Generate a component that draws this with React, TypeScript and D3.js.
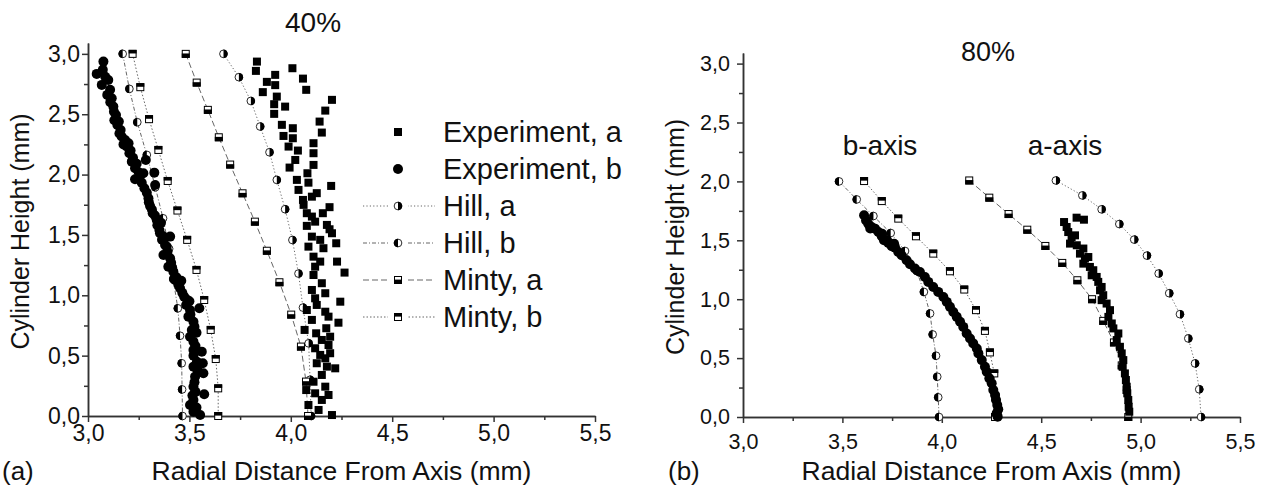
import React, { useEffect, useRef } from 'react';
import * as d3 from 'd3';

// [radial distance (mm), cylinder height (mm)]
// panel (a), 40%
const expA40 = [
  [3.833, 2.936], [3.828, 2.859], [3.882, 2.768], [3.923, 2.826], [3.923, 2.741], [3.862, 2.683],
  [3.931, 2.646], [3.918, 2.583], [3.972, 2.563], [3.918, 2.503], [4.008, 2.881], [4.06, 2.795],
  [4.076, 2.702], [4.203, 2.619], [4.17, 2.53], [4.142, 2.439], [4.153, 2.348], [3.956, 2.412],
  [4.01, 2.384], [3.964, 2.32], [4.01, 2.301], [3.989, 2.232], [4.112, 2.26], [4.035, 2.199],
  [4.112, 2.177], [4.022, 2.121], [3.994, 2.058], [4.112, 2.08], [4.082, 2.011], [4.03, 1.956],
  [4.087, 1.933], [4.199, 1.906], [4.038, 1.873], [4.128, 1.846], [4.104, 1.817], [4.06, 1.79],
  [4.063, 1.749], [4.191, 1.73], [4.079, 1.68], [4.104, 1.652], [4.158, 1.68], [4.12, 1.61],
  [4.178, 1.583], [4.191, 1.547], [4.079, 1.575], [4.104, 1.486], [4.145, 1.459], [4.224, 1.431],
  [4.087, 1.403], [4.161, 1.39], [4.203, 1.514], [4.112, 1.32], [4.145, 1.279], [4.228, 1.279],
  [4.12, 1.237], [4.265, 1.188], [4.112, 1.168], [4.153, 1.1], [4.104, 1.044], [4.17, 1.017],
  [4.12, 0.975], [4.244, 0.947], [4.128, 0.92], [4.079, 0.878], [4.17, 0.864], [4.104, 0.796],
  [4.186, 0.823], [4.235, 0.773], [4.068, 0.713], [4.125, 0.685], [4.175, 0.727], [4.153, 0.63],
  [4.194, 0.657], [4.186, 0.588], [4.12, 0.561], [4.145, 0.506], [4.17, 0.478], [4.194, 0.52],
  [4.128, 0.437], [4.178, 0.409], [4.219, 0.395], [4.153, 0.34], [4.112, 0.284], [4.12, 0.188],
  [4.17, 0.243], [4.186, 0.174], [4.076, 0.215], [4.087, 0.091], [4.137, 0.05], [4.153, 0.133],
  [4.203, 0.008],
];
const expB40 = [
  [3.043, 2.834], [3.076, 2.936], [3.073, 2.868], [3.068, 2.743], [3.1, 2.784], [3.109, 2.702],
  [3.117, 2.633], [3.125, 2.563], [3.138, 2.494], [3.145, 2.411], [3.161, 2.37], [3.166, 2.315],
  [3.183, 2.287], [3.191, 2.232], [3.204, 2.177], [3.216, 2.107], [3.232, 2.053], [3.232, 1.962],
  [3.273, 2.011], [3.265, 1.933], [3.278, 1.887], [3.285, 2.121], [3.327, 2.016], [3.298, 1.804],
  [3.306, 1.74], [3.319, 1.68], [3.331, 1.914], [3.339, 1.624], [3.352, 1.541], [3.372, 1.486],
  [3.405, 1.486], [3.388, 1.403], [3.355, 1.514], [3.38, 1.417], [3.372, 1.334], [3.405, 1.307],
  [3.396, 1.237], [3.421, 1.196], [3.429, 1.127], [3.446, 1.086], [3.454, 1.058], [3.474, 0.989],
  [3.484, 0.92], [3.503, 0.878], [3.495, 0.823], [3.52, 0.781], [3.512, 0.713], [3.549, 0.893],
  [3.503, 0.657], [3.52, 0.616], [3.561, 0.533], [3.52, 0.547], [3.537, 0.45], [3.566, 0.437],
  [3.52, 0.409], [3.569, 0.354], [3.528, 0.326], [3.52, 0.243], [3.573, 0.18], [3.52, 0.133],
  [3.503, 0.091], [3.52, 0.036], [3.553, 0.008],
  [3.085, 2.81], [3.095, 2.66], [3.11, 2.6], [3.128, 2.52], [3.13, 2.45], [3.152, 2.44], [3.155, 2.34],
  [3.175, 2.25], [3.2, 2.26], [3.21, 2.2], [3.222, 2.14], [3.24, 2.09], [3.25, 2.02], [3.255, 1.98],
  [3.29, 1.85], [3.3, 1.77], [3.315, 1.71], [3.33, 1.66], [3.342, 1.58], [3.36, 1.6], [3.365, 1.46],
  [3.392, 1.36], [3.41, 1.27], [3.415, 1.23], [3.436, 1.15], [3.46, 1.12], [3.465, 1.02], [3.49, 0.96],
  [3.5, 0.95], [3.505, 0.84], [3.525, 0.74], [3.535, 0.69], [3.53, 0.58], [3.52, 0.5], [3.54, 0.38],
  [3.525, 0.28], [3.53, 0.2], [3.515, 0.17], [3.535, 0.07],
];
const hillA40 = [
  [3.668, 3.0], [3.744, 2.807], [3.803, 2.61], [3.849, 2.398], [3.895, 2.185], [3.931, 1.956],
  [3.972, 1.713], [4.008, 1.458], [4.038, 1.18], [4.06, 0.898], [4.088, 0.602], [4.095, 0.3], [4.1, 0.0],
];
const hillB40 = [
  [3.171, 3.0], [3.204, 2.71], [3.243, 2.434], [3.29, 2.163], [3.332, 1.895], [3.37, 1.638],
  [3.4, 1.385], [3.42, 1.135], [3.443, 0.892], [3.454, 0.665], [3.462, 0.437], [3.464, 0.22], [3.466, 0.0],
];
const mintyA40 = [
  [3.482, 3.0], [3.536, 2.762], [3.591, 2.536], [3.645, 2.309], [3.701, 2.083], [3.762, 1.845],
  [3.823, 1.61], [3.882, 1.369], [3.944, 1.108], [4.002, 0.84], [4.05, 0.575], [4.075, 0.285], [4.085, 0.0],
];
const mintyB40 = [
  [3.22, 3.0], [3.258, 2.724], [3.301, 2.459], [3.347, 2.204], [3.393, 1.947], [3.441, 1.702],
  [3.489, 1.459], [3.535, 1.21], [3.573, 0.961], [3.605, 0.713], [3.63, 0.472], [3.642, 0.229], [3.642, 0.0],
];

// panel (b), 80%
const expA80 = [
  [4.615, 1.655], [4.628, 1.613], [4.678, 1.692], [4.715, 1.675], [4.636, 1.57], [4.653, 1.528],
  [4.67, 1.542], [4.645, 1.472], [4.679, 1.458], [4.712, 1.43], [4.695, 1.387], [4.72, 1.345],
  [4.737, 1.358], [4.712, 1.302], [4.745, 1.274], [4.762, 1.246], [4.754, 1.203], [4.779, 1.189],
  [4.787, 1.147], [4.804, 1.104], [4.796, 1.076], [4.812, 1.034], [4.804, 0.992], [4.829, 0.963],
  [4.846, 0.907], [4.838, 0.85], [4.855, 0.794], [4.863, 0.752], [4.888, 0.709], [4.88, 0.653],
  [4.896, 0.596], [4.905, 0.54], [4.913, 0.483], [4.91, 0.426], [4.921, 0.37], [4.926, 0.314],
  [4.93, 0.257], [4.933, 0.201], [4.938, 0.144], [4.94, 0.087], [4.943, 0.045],
];
const expB80 = [
  [3.609, 1.712], [3.619, 1.669], [3.63, 1.641], [3.647, 1.613], [3.664, 1.599], [3.681, 1.57],
  [3.698, 1.534], [3.709, 1.5], [3.731, 1.477], [3.748, 1.449], [3.765, 1.438], [3.781, 1.401],
  [3.798, 1.373], [3.823, 1.331], [3.84, 1.297], [3.865, 1.26], [3.89, 1.231], [3.915, 1.189],
  [3.932, 1.147], [3.957, 1.104], [3.982, 1.062], [4.008, 1.019], [4.025, 0.977], [4.041, 0.935],
  [4.058, 0.892], [4.075, 0.85], [4.092, 0.808], [4.108, 0.765], [4.125, 0.709], [4.142, 0.667],
  [4.158, 0.625], [4.176, 0.582], [4.184, 0.54], [4.201, 0.483], [4.217, 0.426], [4.226, 0.384],
  [4.239, 0.328], [4.251, 0.286], [4.259, 0.229], [4.268, 0.186], [4.273, 0.144], [4.279, 0.102],
  [4.284, 0.065], [4.276, 0.031], [4.281, 0.003], [3.64, 1.6], [3.7, 1.555], [3.725, 1.5], [3.76, 1.47],
];
const hillA80 = [
  [4.574, 2.008], [4.707, 1.881], [4.804, 1.763], [4.893, 1.638], [4.968, 1.506], [5.032, 1.37],
  [5.091, 1.218], [5.144, 1.051], [5.198, 0.873], [5.24, 0.667], [5.274, 0.455], [5.295, 0.235], [5.304, 0.0],
];
const hillB80 = [
  [3.483, 2.0], [3.572, 1.847], [3.656, 1.706], [3.743, 1.562], [3.815, 1.409], [3.874, 1.24],
  [3.91, 1.062], [3.941, 0.879], [3.954, 0.701], [3.971, 0.52], [3.977, 0.342], [3.982, 0.167], [3.986, 0.0],
];
const mintyA80 = [
  [4.138, 2.008], [4.239, 1.862], [4.336, 1.723], [4.43, 1.59], [4.521, 1.452], [4.606, 1.308],
  [4.682, 1.161], [4.756, 1.0], [4.812, 0.816], [4.866, 0.633], [4.905, 0.438], [4.93, 0.229], [4.938, 0.0],
];
const mintyB80 = [
  [3.609, 2.003], [3.698, 1.833], [3.781, 1.684], [3.87, 1.534], [3.957, 1.387], [4.041, 1.237],
  [4.113, 1.082], [4.172, 0.907], [4.217, 0.731], [4.242, 0.548], [4.264, 0.37], [4.269, 0.167], [4.268, 0.0],
];

const xTicks = [3.0, 3.5, 4.0, 4.5, 5.0, 5.5];
const yTicks = [0.0, 0.5, 1.0, 1.5, 2.0, 2.5, 3.0];
const xMinor = [3.25, 3.75, 4.25, 4.75, 5.25];
const yMinor = [0.25, 0.75, 1.25, 1.75, 2.25, 2.75];
const legendNames = ['Experiment, a', 'Experiment, b', 'Hill, a', 'Hill, b', 'Minty, a', 'Minty, b'];

const FONT = '"Liberation Sans", Arial, Helvetica, sans-serif';
const fmt = d3.formatLocale({ decimal: ',', thousands: '.', grouping: [3], currency: ['', ''] }).format('.1f');

// marker kinds and line dashes for each series
const styles = {
  expA: { marker: 'square', size: 8 },
  expB: { marker: 'circle', size: 10 },
  hillA: { marker: 'halfRight', size: 8.5, dash: '1.2,2.2' },
  hillB: { marker: 'halfLeft', size: 8.5, dash: '4,2,1,2' },
  mintyA: { marker: 'squareBottom', size: 8, dash: '6,3' },
  mintyB: { marker: 'squareTop', size: 8, dash: '1.5,2' },
};

function addMarker(sel, kind, s) {
  const r = s / 2;
  if (kind === 'square') {
    sel.append('rect').attr('x', -r).attr('y', -r).attr('width', s).attr('height', s).attr('fill', '#000');
  } else if (kind === 'circle') {
    sel.append('circle').attr('r', r).attr('fill', '#000');
  } else if (kind === 'halfLeft' || kind === 'halfRight') {
    sel.append('circle').attr('r', r - 0.4).attr('fill', '#fff').attr('stroke', '#111').attr('stroke-width', 0.9);
    const sweep = kind === 'halfRight' ? 1 : 0;
    sel.append('path').attr('d', `M0,${-r}A${r},${r} 0 0 ${sweep} 0,${r}Z`).attr('fill', '#000');
  } else {
    sel.append('rect').attr('x', -r + 0.5).attr('y', -r + 0.5).attr('width', s - 1).attr('height', s - 1)
      .attr('fill', '#fff').attr('stroke', '#000').attr('stroke-width', 1);
    const top = kind === 'squareTop';
    sel.append('rect').attr('x', -r).attr('y', top ? -r : -r * 0.1).attr('width', s).attr('height', top ? r * 0.9 : r * 1.1)
      .attr('fill', '#000');
  }
}

function drawPanel(svg, p) {
  const x = d3.scaleLinear().domain([3, 5.5]).range([p.left, p.right]);
  const y = d3.scaleLinear().domain([0, 3.09]).range([p.bottom, p.top]);
  const g = svg.append('g');

  const styleAxis = (a) => {
    a.selectAll('path,line').attr('stroke', '#333').attr('stroke-width', 1.5);
    a.selectAll('text').attr('fill', '#111').style('font-family', FONT).style('font-size', `${p.tickFont}px`);
  };
  const xa = g.append('g').attr('transform', `translate(0,${p.bottom})`)
    .call(d3.axisBottom(x).tickValues(xTicks).tickFormat(fmt).tickSize(6).tickSizeOuter(0).tickPadding(p.xPad));
  styleAxis(xa);
  const xm = g.append('g').attr('transform', `translate(0,${p.bottom})`)
    .call(d3.axisBottom(x).tickValues(xMinor).tickFormat(() => '').tickSize(4).tickSizeOuter(0));
  styleAxis(xm);
  const ya = g.append('g').attr('transform', `translate(${p.left},0)`)
    .call(d3.axisLeft(y).tickValues(yTicks).tickFormat(fmt).tickSize(6).tickSizeOuter(0).tickPadding(p.yPad));
  styleAxis(ya);
  const ym = g.append('g').attr('transform', `translate(${p.left},0)`)
    .call(d3.axisLeft(y).tickValues(yMinor).tickFormat(() => '').tickSize(4).tickSizeOuter(0));
  styleAxis(ym);

  const line = d3.line().x(d => x(d[0])).y(d => y(d[1]));
  p.series.forEach(([key, data]) => {
    const st = styles[key];
    if (st.dash) {
      g.append('path').attr('d', line(data)).attr('fill', 'none').attr('stroke', '#666')
        .attr('stroke-width', 1).attr('stroke-dasharray', st.dash);
    }
  });
  p.series.forEach(([key, data]) => {
    const st = styles[key];
    const m = g.selectAll(null).data(data).enter().append('g')
      .attr('transform', d => `translate(${x(d[0])},${y(d[1])})`);
    addMarker(m, st.marker, st.size);
  });

  const text = (str, tx, ty, size, anchor = 'middle', rotate = 0) =>
    g.append('text').attr('x', 0).attr('y', 0)
      .attr('transform', `translate(${tx},${ty}) rotate(${rotate})`)
      .attr('text-anchor', anchor).attr('fill', '#111')
      .style('font-family', FONT).style('font-size', `${size}px`).text(str);

  text('Radial Distance From Axis (mm)', (p.left + p.right) / 2, 480, 26.5);
  text('Cylinder Height (mm)', p.yLabelX, (p.top + p.bottom) / 2 + 2, 25, 'middle', -90);
  text(p.tag, p.tagX, 480, 26, 'start');
  p.labels.forEach(([str, tx, ty, size]) => text(str, tx, ty, size));
}

const App = () => {
  const svgRef = useRef(null);

  useEffect(() => {
    const svg = d3.select(svgRef.current);
    svg.selectAll('*').remove();

    drawPanel(svg, {
      left: 88, right: 595, bottom: 416, top: 43, tickFont: 23, xPad: 3, yPad: 2,
      yLabelX: 29, tag: '(a)', tagX: 2,
      labels: [['40%', 313, 32, 28]],
      series: [['hillA', hillA40], ['hillB', hillB40], ['mintyA', mintyA40], ['mintyB', mintyB40], ['expA', expA40], ['expB', expB40]],
    });
    drawPanel(svg, {
      left: 743, right: 1240, bottom: 417, top: 53, tickFont: 21.5, xPad: 11, yPad: 7,
      yLabelX: 684, tag: '(b)', tagX: 668,
      labels: [['80%', 988, 61, 27], ['b-axis', 880, 155, 28], ['a-axis', 1065, 155, 28]],
      series: [['hillA', hillA80], ['hillB', hillB80], ['mintyA', mintyA80], ['mintyB', mintyB80], ['expA', expA80], ['expB', expB80]],
    });

    // legend of panel (a)
    const keys = ['expA', 'expB', 'hillA', 'hillB', 'mintyA', 'mintyB'];
    const lg = svg.append('g');
    keys.forEach((key, i) => {
      const st = styles[key];
      const cy = 132 + i * 37;
      if (st.dash) {
        lg.append('line').attr('x1', 363).attr('x2', 435).attr('y1', cy).attr('y2', cy)
          .attr('stroke', '#666').attr('stroke-width', 1).attr('stroke-dasharray', st.dash);
        lg.append('rect').attr('x', 388).attr('y', cy - 6).attr('width', 20).attr('height', 12).attr('fill', '#fff');
      }
      const m = lg.append('g').attr('transform', `translate(398,${cy})`);
      addMarker(m, st.marker, st.size);
      lg.append('text').attr('x', 443).attr('y', cy + 10).attr('fill', '#111')
        .style('font-family', FONT).style('font-size', '29px').text(legendNames[i]);
    });
  }, []);

  return (
    <svg ref={svgRef} width={1268} height={485}
      style={{ position: 'absolute', left: 0, top: 0, background: '#fff' }} />
  );
};

export default App;
